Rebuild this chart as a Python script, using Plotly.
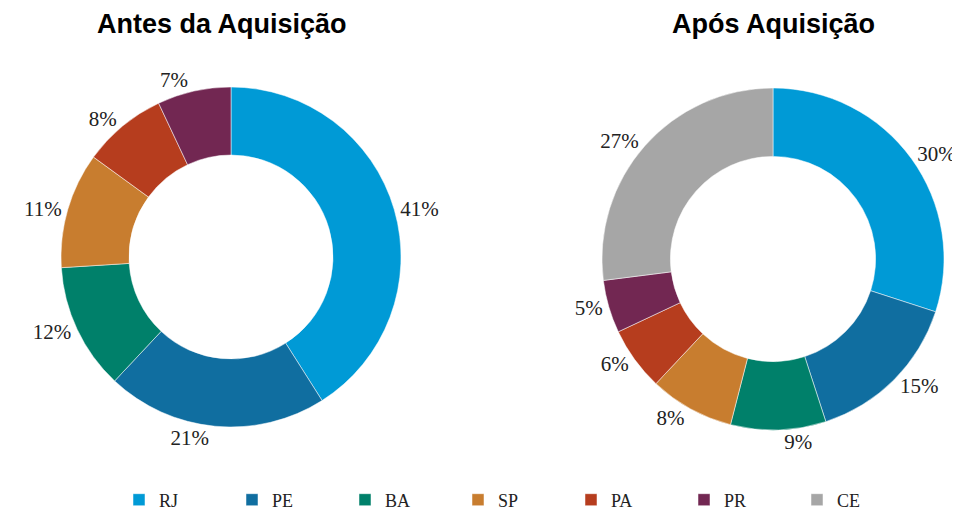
import plotly.graph_objects as go

labels_antes = ["RJ", "PE", "BA", "SP", "PA", "PR"]
values_antes = [41, 21, 12, 11, 8, 7]
labels_apos = ["RJ", "PE", "BA", "SP", "PA", "PR", "CE"]
values_apos = [30, 15, 9, 8, 6, 5, 27]
color_map = {"RJ": "#009AD6", "PE": "#106EA0", "BA": "#00806A", "SP": "#C87D2F",
             "PA": "#B63D1E", "PR": "#722752", "CE": "#A6A6A6"}
titles = ["Antes da Aquisição", "Após Aquisição"]

# page body has an 8px margin, so the figure is laid out in page coords minus 8
OFF = 8
W, H = 960 - OFF, 510 - OFF

def dom(cx, cy, r):
    cx, cy = cx - OFF, cy - OFF
    return dict(x=[(cx - r) / W, (cx + r) / W], y=[1 - (cy + r) / H, 1 - (cy - r) / H])

serif = "Palatino Linotype, Book Antiqua, Liberation Serif, DejaVu Serif, serif"

fig = go.Figure()
for labs, vals, d in [(labels_antes, values_antes, dom(231, 257, 170)),
                      (labels_apos, values_apos, dom(773, 259, 171))]:
    fig.add_trace(go.Pie(
        labels=labs, values=vals, text=[f"{v}%" for v in vals],
        textinfo="text", textposition="outside", hole=0.6, sort=False,
        direction="clockwise", rotation=0, domain=d, automargin=False,
        marker=dict(colors=[color_map[l] for l in labs], line=dict(color="white", width=0.5)),
        textfont=dict(family=serif, size=21, color="#222222"),
        hoverinfo="label+percent",
    ))

for t, x in zip(titles, [222, 773]):
    fig.add_annotation(text=f"<b>{t}</b>", x=(x - OFF) / W, y=1 - (24 - OFF) / H,
                       xref="paper", yref="paper",
                       xanchor="center", yanchor="middle", showarrow=False,
                       font=dict(family="Arial, Liberation Sans, sans-serif", size=27, color="black"))

fig.update_layout(
    width=W, height=H, margin=dict(l=0, r=0, t=0, b=0, autoexpand=False),
    paper_bgcolor="white", plot_bgcolor="white",
    legend=dict(orientation="h", x=(139 - OFF - 20) / W, xanchor="left",
                y=1 - (500 - OFF) / H, yanchor="middle",
                font=dict(family=serif, size=18, color="#222222"),
                entrywidth=68, entrywidthmode="pixels", traceorder="normal"),
)
fig.write_html("out.html")
